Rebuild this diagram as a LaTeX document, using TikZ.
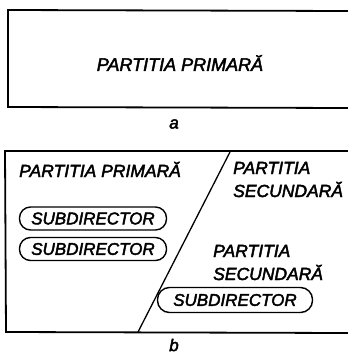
\documentclass[tikz,border=0pt]{standalone}
\usepackage{fontspec}
\setmainfont{Liberation Sans}
\newfontfamily\lblfont[FakeBold=2.5]{Liberation Sans}
\begin{document}
\begin{tikzpicture}[x=1pt,y=-1pt,
  lbl/.style={font=\lblfont\fontsize{17.5}{23}\selectfont\itshape, inner sep=0pt},
  caption/.style={font=\lblfont\fontsize{17}{18}\selectfont\itshape, inner sep=0pt},
  subdir/.style={draw, line width=1.4pt, rounded corners=11pt, minimum width=147pt, minimum height=23pt, inner sep=0pt, font=\lblfont\fontsize{17}{18}\selectfont\itshape},
  frame/.style={line width=1.8pt}]
\useasboundingbox (0,0) rectangle (348,354);
% part a
\draw[frame] (348,11) -- (8,10) -- (8,107) -- (348,108);
\node[lbl, font=\lblfont\fontsize{18}{20}\selectfont\itshape] (ta) at (180,63) {PARTITIA PRIMARĂ};
\node[caption] (ca) at (174,124) {a};
% part b
\draw[frame] (348,151) -- (5,151) -- (6,332) -- (348,333);
\coordinate (d1) at (230,152);
\coordinate (d2) at (138,332);
\draw[line width=1.3pt] (d1) -- (d2);
\node[lbl, anchor=base west] (tb) at (19,177) {PARTITIA PRIMARĂ};
\node[lbl, anchor=base west, align=left] (s1) at (233,197) {PARTITIA\\SECUNDARĂ};
\node[subdir] (sd1) at (93,218.5) {SUBDIRECTOR};
\node[subdir] (sd2) at (93,249) {SUBDIRECTOR};
\node[lbl, anchor=base west, align=left] (s2) at (213,280) {PARTITIA\\SECUNDARĂ};
\node[subdir, minimum width=155pt, minimum height=25pt, rounded corners=12pt] (sd3) at (235,300) {SUBDIRECTOR};
\node[caption] (cb) at (174,345) {b};
\end{tikzpicture}
\end{document}
